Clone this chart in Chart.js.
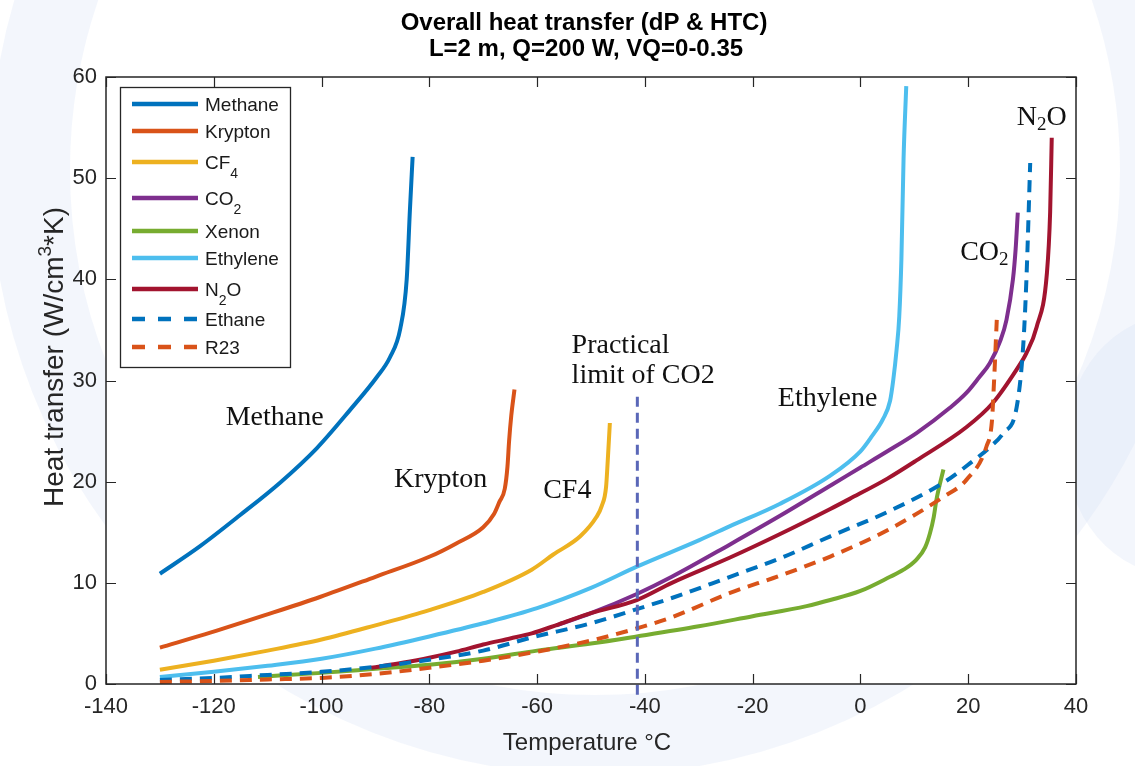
<!DOCTYPE html>
<html>
<head>
<meta charset="utf-8">
<script src="https://cdn.jsdelivr.net/npm/chart.js@4.4.0/dist/chart.umd.min.js"></script>
<style>
html,body{margin:0;padding:0;background:#fff;}
#wrap{width:1135px;height:766px;position:relative;}
canvas{display:block;}
</style>
</head>
<body>
<div id="wrap"><canvas id="c" width="1135" height="766"></canvas></div>
<script>
// ---------------- data ----------------
const seriesNames = ['Methane','Krypton','CF4','CO2','Xenon','Ethylene','N2O','Ethane','R23'];
const legendLabels = ['Methane','Krypton','CF_4','CO_2','Xenon','Ethylene','N_2O','Ethane','R23'];

const methaneT = [-130,-122.6,-115.1,-107.7,-100.9,-94.7,-89.8,-87.3,-85.4,-84.2,-83.6,-83.1];
const methaneH = [10.9,13.6,16.7,19.9,23.3,27.1,30.3,32.3,35.1,40.0,46.9,52.1];

const kryptonT = [-130,-120.5,-110.5,-100.3,-90,-79.9,-75,-70,-68,-67,-66,-65.5,-65.2,-64.8,-64.2];
const kryptonH = [3.6,5.1,6.8,8.6,10.6,12.6,13.9,15.5,16.8,18.0,19.3,21.5,24.0,26.5,29.1];

const cf4T = [-130,-120,-110,-100,-90,-80,-70,-61,-57,-52,-49,-48,-47.2,-46.9,-46.5];
const cf4H = [1.4,2.3,3.3,4.4,5.8,7.3,9.1,11.3,12.8,14.6,16.5,17.6,19.5,22.0,25.8];

const co2T = [-56.4,-50,-41.5,-35,-24.2,-15,-5,0,5,10.4,16.6,19.7,22,24,26,27.1,28.3,28.8,29.2];
const co2H = [5.8,7.0,8.9,10.6,13.8,16.6,19.8,21.4,23.0,24.8,27.3,28.8,30.3,31.7,34.0,36.0,40.0,43.0,46.6];

const xenonT = [-111.8,-100,-90,-80,-70,-60,-50,-41.5,-30,-20,-10,-5.6,0,5.5,8,10.4,12,12.9,13.6,14.1,15.4];
const xenonH = [0.7,1.1,1.5,1.9,2.5,3.3,4.0,4.7,5.7,6.7,7.7,8.3,9.2,10.6,11.3,12.3,13.5,14.9,16.5,18.2,21.2];

const ethyleneT = [-130,-120,-110,-100,-90,-80,-70,-60,-50,-41.5,-30,-24.2,-15,-5.6,0,2,4.2,5.5,6.1,6.7,7.2,7.6,8.0,8.5];
const ethyleneH = [0.7,1.2,1.8,2.5,3.5,4.7,6.0,7.5,9.5,11.6,14.2,15.6,17.8,20.6,23.0,24.4,26.2,28.0,30.1,33.0,36.3,42.0,51.9,59.1];

const n2oT = [-90.8,-85,-80,-75,-70,-65,-61,-56,-50,-41.5,-35,-24.2,-15,-5.6,-2,5,10.4,19.7,24.6,29,30.8,32.7,34.6,35.2,35.5];
const n2oH = [1.6,2.1,2.6,3.2,3.9,4.5,5.0,5.9,7.0,8.3,10.0,12.5,14.8,17.3,18.3,20.3,22.1,25.4,27.8,31.1,32.7,35.3,40.6,46.6,54.0];

const ethaneT = [-130,-120,-110,-100,-90,-80,-70,-61,-50,-41.5,-35,-24.2,-15,-5.6,5,15.4,20.3,24,26.5,29.0,30.2,30.8,31.5];
const ethaneH = [0.4,0.6,0.9,1.2,1.7,2.4,3.3,4.6,6.0,7.4,8.5,10.6,12.4,14.6,17.0,19.9,21.8,23.4,24.8,27.4,33.4,40.0,51.5];

const r23T = [-130,-120,-110,-100,-90,-80,-70,-60,-50,-41.5,-35,-24.2,-15,-5.6,5,15.4,19.7,23.4,24.4,24.8,25.3];
const r23H = [0.2,0.3,0.45,0.6,1.0,1.6,2.3,3.2,4.3,5.5,6.6,9.0,10.7,12.6,15.2,18.5,20.2,23.5,26.0,30.0,36.0];

const limitT = [-41.4,-41.4];
const limitH = [28.4,-1.3];

const xTicks = [-140,-120,-100,-80,-60,-40,-20,0,20,40];
const yTicks = [0,10,20,30,40,50,60];

const titleLines = ['Overall heat transfer (dP & HTC)','L=2 m, Q=200 W, VQ=0-0.35'];
const xTitle = 'Temperature \u00B0C';
const yTitle = 'Heat transfer (W/cm^3*K)';

// ---------------- styles ----------------
const colors = ['#0072BD','#D95319','#EDB120','#7E2F8E','#77AC30','#4DBEEE','#A2142F','#0072BD','#D95319'];
const dashed = [false,false,false,false,false,false,false,true,true];
const seriesT = [methaneT,kryptonT,cf4T,co2T,xenonT,ethyleneT,n2oT,ethaneT,r23T];
const seriesH = [methaneH,kryptonH,cf4H,co2H,xenonH,ethyleneH,n2oH,ethaneH,r23H];

const zip = (xs, ys) => xs.map((v, i) => ({x: v, y: ys[i]}));

const datasets = seriesNames.map((name, i) => ({
  label: name,
  data: zip(seriesT[i], seriesH[i]),
  borderColor: colors[i],
  backgroundColor: colors[i],
  borderWidth: 4,
  borderDash: dashed[i] ? [12, 8] : [],
  pointRadius: 0,
  showLine: true,
  fill: false,
  cubicInterpolationMode: 'monotone',
  borderCapStyle: 'butt',
  order: 20 - i
}));
datasets.push({
  label: 'Practical limit of CO2',
  data: zip(limitT, limitH),
  borderColor: '#5a67b8',
  borderWidth: 3,
  borderDash: [10, 6],
  pointRadius: 0,
  showLine: true,
  fill: false,
  clip: false,
  order: 0
});

// annotations in data coordinates
const notes = [
  {parts: [['Methane']], x: -108.7, y: 25.6, align: 'center'},
  {parts: [['Krypton']], x: -77.9, y: 19.5, align: 'center'},
  {parts: [['CF4']], x: -54.4, y: 18.4, align: 'center'},
  {parts: [['Practical']], x: -53.6, y: 32.7, align: 'left'},
  {parts: [['limit of CO2']], x: -53.6, y: 29.8, align: 'left'},
  {parts: [['Ethylene']], x: -6.1, y: 27.5, align: 'center'},
  {parts: [['CO'], ['2', 'sub']], x: 18.5, y: 41.9, align: 'left'},
  {parts: [['N'], ['2', 'sub'], ['O']], x: 29.0, y: 55.3, align: 'left'}
];

const SANS = "'Liberation Sans', Arial, Helvetica, sans-serif";
const SERIF = "'Liberation Serif', 'Times New Roman', serif";

function parseMarkup(s) {
  const parts = [];
  let buf = '';
  for (let i = 0; i < s.length; i++) {
    const c = s[i];
    if ((c === '_' || c === '^') && i + 1 < s.length) {
      if (buf) { parts.push([buf]); buf = ''; }
      parts.push([s[i + 1], c === '_' ? 'sub' : 'sup']);
      i++;
    } else buf += c;
  }
  if (buf) parts.push([buf]);
  return parts;
}

function richWidth(ctx, parts, size, subSize, family, weight) {
  let w = 0;
  parts.forEach(p => {
    ctx.font = (weight || '') + ' ' + (p[1] ? subSize : size) + 'px ' + family;
    w += ctx.measureText(p[0]).width;
  });
  return w;
}

function drawRich(ctx, parts, x, y, opt) {
  const {size, subSize, subDy, supDy, family, weight, align, color} = opt;
  const w = richWidth(ctx, parts, size, subSize, family, weight);
  let cx = align === 'center' ? x - w / 2 : (align === 'right' ? x - w : x);
  ctx.fillStyle = color;
  ctx.textBaseline = 'alphabetic';
  ctx.textAlign = 'left';
  parts.forEach(p => {
    ctx.font = (weight || '') + ' ' + (p[1] ? subSize : size) + 'px ' + family;
    const dy = p[1] === 'sub' ? subDy : (p[1] === 'sup' ? -supDy : 0);
    ctx.fillText(p[0], cx, y + dy);
    cx += ctx.measureText(p[0]).width;
  });
}

// ---------------- plugins ----------------
const backdrop = {
  id: 'backdrop',
  beforeDraw(chart) {
    const {ctx, chartArea: a} = chart;
    ctx.save();
    ctx.fillStyle = '#ffffff';
    ctx.fillRect(0, 0, chart.width, chart.height);
    ctx.strokeStyle = 'rgba(214,224,244,0.3)';
    ctx.lineWidth = 80;
    ctx.beginPath();
    ctx.arc(595, 170, 565, 0, Math.PI * 2);
    ctx.stroke();
    ctx.fillStyle = 'rgba(214,224,244,0.3)';
    ctx.beginPath();
    ctx.ellipse(1175, 445, 110, 130, 0, 0, Math.PI * 2);
    ctx.fill();
    ctx.fillStyle = '#ffffff';
    ctx.fillRect(a.left, a.top, a.right - a.left, a.bottom - a.top);
    ctx.restore();
  }
};

const frame = {
  id: 'frame',
  afterDatasetsDraw(chart) {
    const {ctx, chartArea: a, scales: {x, y}} = chart;
    ctx.save();
    ctx.strokeStyle = '#262626';
    ctx.lineWidth = 1.5;
    ctx.setLineDash([]);
    ctx.strokeRect(a.left, a.top, a.right - a.left, a.bottom - a.top);
    ctx.lineWidth = 1.2;
    ctx.beginPath();
    x.ticks.forEach(t => {
      const px = Math.round(x.getPixelForValue(t.value)) + 0.5;
      ctx.moveTo(px, a.bottom); ctx.lineTo(px, a.bottom - 10);
      ctx.moveTo(px, a.top); ctx.lineTo(px, a.top + 10);
    });
    y.ticks.forEach(t => {
      const py = Math.round(y.getPixelForValue(t.value)) + 0.5;
      ctx.moveTo(a.left, py); ctx.lineTo(a.left + 10, py);
      ctx.moveTo(a.right, py); ctx.lineTo(a.right - 10, py);
    });
    ctx.stroke();
    ctx.restore();
  },
  afterDraw(chart) {
    const {ctx, scales: {x, y}} = chart;
    ctx.save();
    notes.forEach(n => {
      drawRich(ctx, n.parts, x.getPixelForValue(n.x), y.getPixelForValue(n.y),
        {size: 28, subSize: 19, subDy: 5, supDy: 0, family: SERIF, weight: '', align: n.align, color: '#111'});
    });
    drawRich(ctx, [[titleLines[0]]], 584, 30, {size: 24, subSize: 16, subDy: 0, supDy: 0, family: SANS, weight: 'bold', align: 'center', color: '#000'});
    drawRich(ctx, [[titleLines[1]]], 586, 56, {size: 24, subSize: 16, subDy: 0, supDy: 0, family: SANS, weight: 'bold', align: 'center', color: '#000'});
    drawRich(ctx, [[xTitle]], 587, 750, {size: 24, subSize: 16, subDy: 0, supDy: 0, family: SANS, weight: '', align: 'center', color: '#262626'});
    ctx.save();
    ctx.translate(63, 357);
    ctx.rotate(-Math.PI / 2);
    drawRich(ctx, parseMarkup(yTitle), 0, 0, {size: 28, subSize: 19, subDy: 0, supDy: 12, family: SANS, weight: '', align: 'center', color: '#262626'});
    ctx.restore();
    const L = {x: 120, y: 87, w: 170, h: 280, x0: 132, x1: 198, tx: 205, rows: [104, 131, 162, 198, 231, 258, 289, 319, 347]};
    ctx.fillStyle = '#ffffff';
    ctx.fillRect(L.x, L.y, L.w, L.h);
    ctx.strokeStyle = '#262626';
    ctx.lineWidth = 1.3;
    ctx.strokeRect(L.x + 0.5, L.y + 0.5, L.w, L.h);
    legendLabels.forEach((lab, i) => {
      const ds = chart.data.datasets[i];
      const ry = L.rows[i];
      ctx.strokeStyle = ds.borderColor;
      ctx.lineWidth = 4.5;
      ctx.lineCap = 'butt';
      ctx.setLineDash(dashed[i] ? [13, 13] : []);
      ctx.beginPath();
      ctx.moveTo(L.x0, ry); ctx.lineTo(L.x1, ry);
      ctx.stroke();
      ctx.setLineDash([]);
      drawRich(ctx, parseMarkup(lab), L.tx, ry + 7, {size: 19, subSize: 14, subDy: 9, supDy: 0, family: SANS, weight: '', align: 'left', color: '#1a1a1a'});
    });
    ctx.restore();
  }
};

// ---------------- chart ----------------
new Chart(document.getElementById('c'), {
  type: 'scatter',
  data: {datasets},
  options: {
    responsive: false,
    animation: false,
    events: [],
    layout: {padding: {top: 77, right: 59, bottom: 0, left: 0}},
    plugins: {legend: {display: false}, tooltip: {enabled: false}, title: {display: false}},
    scales: {
      x: {
        type: 'linear', min: -140, max: 40,
        afterBuildTicks: s => { s.ticks = xTicks.map(v => ({value: v})); },
        afterFit: s => { s.height = 82; },
        grid: {display: false, drawTicks: false},
        border: {display: false},
        ticks: {padding: 10, color: '#262626', font: {family: SANS, size: 22}, maxRotation: 0, autoSkip: false}
      },
      y: {
        type: 'linear', min: 0, max: 60,
        afterBuildTicks: s => { s.ticks = yTicks.map(v => ({value: v})); },
        afterFit: s => { s.width = 106; },
        grid: {display: false, drawTicks: false},
        border: {display: false},
        ticks: {padding: 9, color: '#262626', font: {family: SANS, size: 22}, autoSkip: false}
      }
    }
  },
  plugins: [backdrop, frame]
});
</script>
</body>
</html>
